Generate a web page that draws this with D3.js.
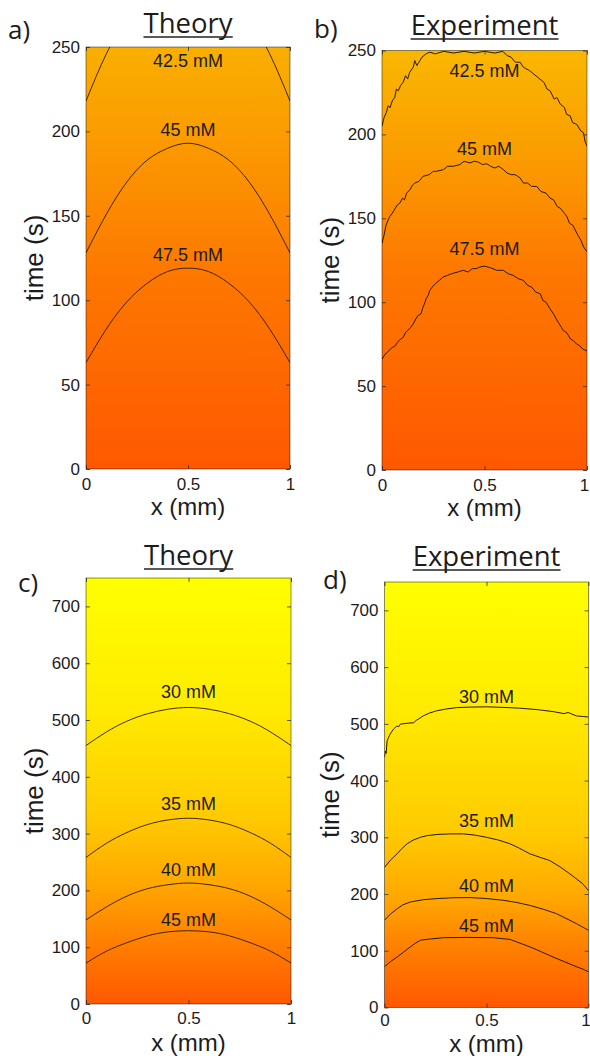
<!DOCTYPE html>
<html>
<head>
<meta charset="utf-8">
<script src="https://cdn.jsdelivr.net/npm/d3@7"></script>
<style>
  body { margin: 0; background: #fff; }
  svg text { font-family: "Liberation Sans", Arial, Helvetica, sans-serif; fill: #1c1c1c; }
  svg text.title, svg text.tag { font-family: "Open Sans", "Noto Sans", sans-serif; }
</style>
</head>
<body>
<svg width="590" height="1056"></svg>
<script>
// ---- data ----
const xTicks = [0, 0.5, 1];
const timeTicksTop = [0, 50, 100, 150, 200, 250];
const timeTicksBottom = [0, 100, 200, 300, 400, 500, 600, 700];
const xGrid = [0, 0.1, 0.2, 0.3, 0.4, 0.5, 0.6, 0.7, 0.8, 0.9, 1];

// a) theory, contour times along xGrid
const theoryA_425 = [218, 246, 267, 283, 292, 295, 292, 283, 267, 246, 218];
const theoryA_45 = [128, 151, 170, 183, 190, 193, 190, 183, 170, 151, 128];
const theoryA_475 = [63, 83, 99, 110, 117, 119, 117, 110, 99, 83, 63];
const levelsA = ['42.5 mM', '45 mM', '47.5 mM'];
const labelTimesA = [238, 197, 123];
const gradTimesA = [0, 119, 193, 250];
const gradConcA = [50, 47.5, 45, 43.4];

// b) experiment, [x, time] traced points
const exptB_425 = [[0, 205], [0.01, 210], [0.021, 213], [0.03, 217], [0.04, 216], [0.05, 220], [0.062, 222], [0.07, 227], [0.08, 226],
  [0.09, 229], [0.103, 231], [0.115, 235], [0.125, 233], [0.135, 237], [0.152, 240], [0.16, 244], [0.17, 241], [0.18, 243],
  [0.195, 246], [0.215, 248], [0.233, 249], [0.26, 248], [0.3, 249.5], [0.35, 248.5], [0.4, 249.5], [0.45, 248.5], [0.5, 249.5],
  [0.55, 248.5], [0.59, 249.5], [0.61, 247], [0.63, 246], [0.65, 243], [0.674, 243], [0.69, 240], [0.72, 238], [0.74, 236],
  [0.76, 234], [0.79, 231], [0.805, 227], [0.82, 226], [0.84, 221], [0.853, 222], [0.87, 218], [0.89, 216], [0.9, 212],
  [0.918, 211], [0.93, 207], [0.95, 206], [0.97, 202], [0.983, 201], [0.99, 196], [1, 193]];
const exptB_45 = [[0, 135], [0.01, 140], [0.02, 146], [0.03, 149], [0.038, 151], [0.05, 153], [0.065, 156], [0.075, 158], [0.087, 159],
  [0.1, 162], [0.11, 161], [0.12, 165], [0.136, 167], [0.15, 170], [0.16, 171], [0.18, 172], [0.2, 175], [0.23, 176], [0.25, 178],
  [0.266, 178], [0.3, 179], [0.32, 181], [0.347, 181], [0.38, 182], [0.4, 184], [0.429, 183], [0.45, 184], [0.47, 183.5],
  [0.49, 182], [0.511, 182.5], [0.53, 181], [0.55, 180], [0.57, 181], [0.592, 179], [0.61, 177], [0.63, 176], [0.65, 176],
  [0.674, 174], [0.69, 171], [0.71, 171], [0.73, 169], [0.755, 169], [0.775, 166], [0.8, 165], [0.82, 162], [0.837, 161],
  [0.855, 157], [0.87, 156], [0.89, 153], [0.902, 151], [0.915, 147], [0.93, 146], [0.951, 141], [0.96, 139], [0.97, 137],
  [0.983, 133], [1, 130]];
const exptB_475 = [[0, 66], [0.015, 69], [0.025, 70], [0.04, 72], [0.05, 73], [0.065, 74], [0.075, 76], [0.09, 78], [0.103, 79],
  [0.115, 82], [0.125, 83], [0.14, 85], [0.152, 87], [0.165, 90], [0.175, 92], [0.19, 93], [0.2, 97], [0.21, 100], [0.215, 102],
  [0.225, 104], [0.233, 107], [0.245, 109], [0.26, 111], [0.28, 113], [0.298, 115], [0.32, 116], [0.34, 117], [0.37, 118],
  [0.396, 119], [0.42, 118], [0.44, 120], [0.46, 120], [0.478, 121], [0.5, 121.5], [0.53, 120.5], [0.56, 119], [0.592, 119],
  [0.615, 117], [0.64, 116], [0.665, 114], [0.69, 113], [0.71, 110], [0.73, 109], [0.75, 106], [0.772, 105], [0.785, 101],
  [0.8, 100], [0.82, 96], [0.837, 93], [0.85, 90], [0.86, 88], [0.875, 85], [0.885, 83], [0.9, 82], [0.91, 80], [0.92, 78],
  [0.934, 77], [0.95, 75], [0.965, 74], [0.98, 72], [1, 71]];
const levelsB = ['42.5 mM', '45 mM', '47.5 mM'];
const labelTimesB = [234, 188, 128];
const gradTimesB = [0, 121, 182, 250];
const gradConcB = [50, 47.5, 45, 42.8];

// c) theory
const theoryC_30 = [455, 479, 498, 511, 519, 522, 519, 511, 498, 479, 455];
const theoryC_35 = [258, 283, 302, 316, 324, 327, 324, 316, 302, 283, 258];
const theoryC_40 = [148, 171, 190, 203, 210, 213, 210, 203, 190, 171, 148];
const theoryC_45 = [72, 93, 108, 120, 127, 129, 127, 120, 108, 93, 72];
const levelsC = ['30 mM', '35 mM', '40 mM', '45 mM'];
const labelTimesC = [538, 341, 226, 138];
const gradTimesC = [0, 129, 213, 327, 522, 750];
const gradConcC = [52, 45, 40, 35, 30, 27];

// d) experiment
const exptD_30 = [[0, 441], [0.004, 452], [0.008, 448], [0.013, 470], [0.02, 476], [0.025, 480], [0.035, 486], [0.045, 491],
  [0.06, 496], [0.07, 495], [0.078, 499.5], [0.11, 501], [0.143, 502], [0.155, 506], [0.165, 508], [0.19, 514], [0.22, 519],
  [0.256, 523], [0.3, 526], [0.354, 528.6], [0.42, 529.5], [0.5, 530], [0.58, 529], [0.663, 527.6], [0.75, 525], [0.826, 521.6],
  [0.88, 518], [0.9, 520], [0.94, 514], [0.97, 513], [1, 512]];
const exptD_35 = [[0, 247], [0.03, 260], [0.062, 271], [0.085, 280], [0.111, 288.6], [0.14, 295], [0.176, 300], [0.21, 303],
  [0.257, 305], [0.32, 306], [0.387, 306], [0.44, 304], [0.5, 300], [0.56, 295], [0.615, 288.6], [0.66, 281], [0.712, 271],
  [0.76, 265], [0.81, 259], [0.86, 248], [0.907, 236], [0.94, 227], [0.972, 218], [1, 206]];
const exptD_40 = [[0, 154], [0.03, 165], [0.062, 174], [0.09, 181], [0.127, 186], [0.19, 190], [0.257, 192], [0.34, 193.5],
  [0.42, 193.7], [0.5, 192], [0.582, 189], [0.65, 185], [0.712, 180], [0.78, 173], [0.842, 165.5], [0.89, 157], [0.94, 148],
  [0.97, 142], [1, 136]];
const exptD_45 = [[0, 72], [0.03, 81], [0.062, 89], [0.095, 98], [0.127, 107], [0.15, 113], [0.176, 118.6], [0.23, 121],
  [0.29, 123], [0.4, 123.5], [0.533, 123], [0.615, 120], [0.66, 114], [0.712, 107], [0.77, 98], [0.826, 89], [0.88, 81],
  [0.94, 72], [0.97, 68], [1, 63]];
const levelsD = ['30 mM', '35 mM', '40 mM', '45 mM'];
const labelTimesD = [537, 318, 204, 133];
const gradTimesD = [0, 123, 194, 306, 530, 750];
const gradConcD = [52, 45, 40, 35, 30, 27];

// ---- layout ----
const panels = [
  { key: 'a', tag: 'a)', title: 'Theory', left: 86, right: 290, top: 47, bottom: 469, tMax: 250, ticks: timeTicksTop,
    contours: [theoryA_425, theoryA_45, theoryA_475].map(ts => d3.zip(xGrid, ts)), smooth: true,
    levels: levelsA, labelTimes: labelTimesA, gradTimes: gradTimesA, gradConc: gradConcA,
    colorDomain: [42, 50], colorRange: ['#f8c200', '#ff5800'],
    tagPos: [8, 39], titleY: 33, yLabelX: 43, xLabelY: 515, xPad: 9 },
  { key: 'b', tag: 'b)', title: 'Experiment', left: 382, right: 587, top: 50.5, bottom: 470, tMax: 250, ticks: timeTicksTop,
    contours: [exptB_425, exptB_45, exptB_475], smooth: false,
    levels: levelsB, labelTimes: labelTimesB, gradTimes: gradTimesB, gradConc: gradConcB,
    colorDomain: [42, 50], colorRange: ['#f8c200', '#ff5800'],
    tagPos: [314, 38], titleY: 35, yLabelX: 339, xLabelY: 516, xPad: 9 },
  { key: 'c', tag: 'c)', title: 'Theory', left: 86, right: 291, top: 578, bottom: 1004, tMax: 750, ticks: timeTicksBottom,
    contours: [theoryC_30, theoryC_35, theoryC_40, theoryC_45].map(ts => d3.zip(xGrid, ts)), smooth: true,
    levels: levelsC, labelTimes: labelTimesC, gradTimes: gradTimesC, gradConc: gradConcC,
    colorDomain: [27, 52], colorRange: ['#ffff00', '#ff5800'],
    tagPos: [18, 592], titleY: 565, yLabelX: 43, xLabelY: 1051, xPad: 8 },
  { key: 'd', tag: 'd)', title: 'Experiment', left: 384.5, right: 588.5, top: 582, bottom: 1007.5, tMax: 750, ticks: timeTicksBottom,
    contours: [exptD_30, exptD_35, exptD_40, exptD_45], smooth: false,
    levels: levelsD, labelTimes: labelTimesD, gradTimes: gradTimesD, gradConc: gradConcD,
    colorDomain: [27, 52], colorRange: ['#ffff00', '#ff5800'],
    tagPos: [323, 589], titleY: 566, yLabelX: 339, xLabelY: 1051.5, xPad: 6 }
];

const svg = d3.select('svg');
const defs = svg.append('defs');

function drawPanel(p) {
  const x = d3.scaleLinear().domain([0, 1]).range([p.left, p.right]);
  const y = d3.scaleLinear().domain([0, p.tMax]).range([p.bottom, p.top]);
  const color = d3.scaleLinear().domain(p.colorDomain).range(p.colorRange).clamp(true);

  const grad = defs.append('linearGradient')
    .attr('id', 'grad-' + p.key)
    .attr('gradientUnits', 'userSpaceOnUse')
    .attr('x1', 0).attr('x2', 0)
    .attr('y1', y(0)).attr('y2', y(p.tMax));
  grad.selectAll('stop').data(d3.zip(p.gradTimes, p.gradConc)).join('stop')
    .attr('offset', d => d[0] / p.tMax)
    .attr('stop-color', d => color(d[1]));

  defs.append('clipPath').attr('id', 'clip-' + p.key)
    .append('rect')
    .attr('x', p.left).attr('y', p.top)
    .attr('width', p.right - p.left).attr('height', p.bottom - p.top);

  const g = svg.append('g');

  // field
  g.append('rect')
    .attr('x', p.left).attr('y', p.top)
    .attr('width', p.right - p.left).attr('height', p.bottom - p.top)
    .attr('fill', `url(#grad-${p.key})`);

  // contour lines
  const line = d3.line()
    .x(d => x(d[0]))
    .y(d => y(d[1]))
    .curve(p.smooth ? d3.curveNatural : d3.curveLinear);
  g.append('g').attr('clip-path', `url(#clip-${p.key})`)
    .selectAll('path').data(p.contours).join('path')
    .attr('d', line)
    .attr('fill', 'none')
    .attr('stroke', '#2a1a00')
    .attr('stroke-width', p.smooth ? 0.9 : 1)
    .attr('stroke-linejoin', 'round');

  // contour labels
  g.selectAll('text.level').data(d3.zip(p.levels, p.labelTimes)).join('text')
    .attr('class', 'level')
    .attr('x', x(0.5))
    .attr('y', d => y(d[1]))
    .attr('text-anchor', 'middle')
    .attr('font-size', 18)
    .text(d => d[0]);

  // axes with inward ticks
  const axL = g.append('g').attr('transform', `translate(${p.left},0)`)
    .call(d3.axisLeft(y).tickValues(p.ticks).tickSizeInner(-4).tickSizeOuter(0).tickPadding(6));
  const axR = g.append('g').attr('transform', `translate(${p.right},0)`)
    .call(d3.axisRight(y).tickValues(p.ticks).tickSizeInner(-4).tickSizeOuter(0).tickFormat(() => ''));
  const axB = g.append('g').attr('transform', `translate(0,${p.bottom})`)
    .call(d3.axisBottom(x).tickValues(xTicks).tickSizeInner(-4).tickSizeOuter(0).tickPadding(p.xPad).tickFormat(d3.format('')));
  const axT = g.append('g').attr('transform', `translate(0,${p.top})`)
    .call(d3.axisTop(x).tickValues(xTicks).tickSizeInner(-4).tickSizeOuter(0).tickFormat(() => ''));
  [axL, axR, axB, axT].forEach(ax => {
    ax.select('.domain').remove();
    ax.selectAll('.tick line').attr('stroke', '#333').attr('stroke-width', 0.8);
    ax.selectAll('text').attr('font-size', 17).attr('fill', '#1c1c1c')
      .style('font-family', '"Liberation Sans", Arial, sans-serif');
  });
  // keep the last x tick label inside the page
  axB.selectAll('.tick text').filter(d => d === 1).attr('dx', p.right > 580 ? -3 : 0);

  // frame
  g.append('rect')
    .attr('x', p.left).attr('y', p.top)
    .attr('width', p.right - p.left).attr('height', p.bottom - p.top)
    .attr('fill', 'none')
    .attr('stroke', '#000').attr('stroke-opacity', 0.45).attr('stroke-width', 1);

  // axis titles
  g.append('text')
    .attr('x', (p.left + p.right) / 2).attr('y', p.xLabelY)
    .attr('text-anchor', 'middle').attr('font-size', 24)
    .text('x (mm)');
  g.append('text')
    .attr('transform', `translate(${p.yLabelX},${(p.top + p.bottom) / 2}) rotate(-90)`)
    .attr('text-anchor', 'middle').attr('font-size', 26)
    .text('time (s)');

  // panel title, underlined
  const title = g.append('text')
    .attr('class', 'title')
    .attr('x', (p.left + p.right) / 2).attr('y', p.titleY)
    .attr('text-anchor', 'middle').attr('font-size', 27.5)
    .text(p.title);
  const bb = title.node().getBBox();
  g.append('line')
    .attr('x1', bb.x).attr('x2', bb.x + bb.width)
    .attr('y1', p.titleY + 4).attr('y2', p.titleY + 4)
    .attr('stroke', '#222').attr('stroke-width', 1.4);

  g.append('text')
    .attr('class', 'tag')
    .attr('x', p.tagPos[0]).attr('y', p.tagPos[1])
    .attr('font-size', 26)
    .text(p.tag);
}

panels.forEach(drawPanel);
</script>
</body>
</html>
